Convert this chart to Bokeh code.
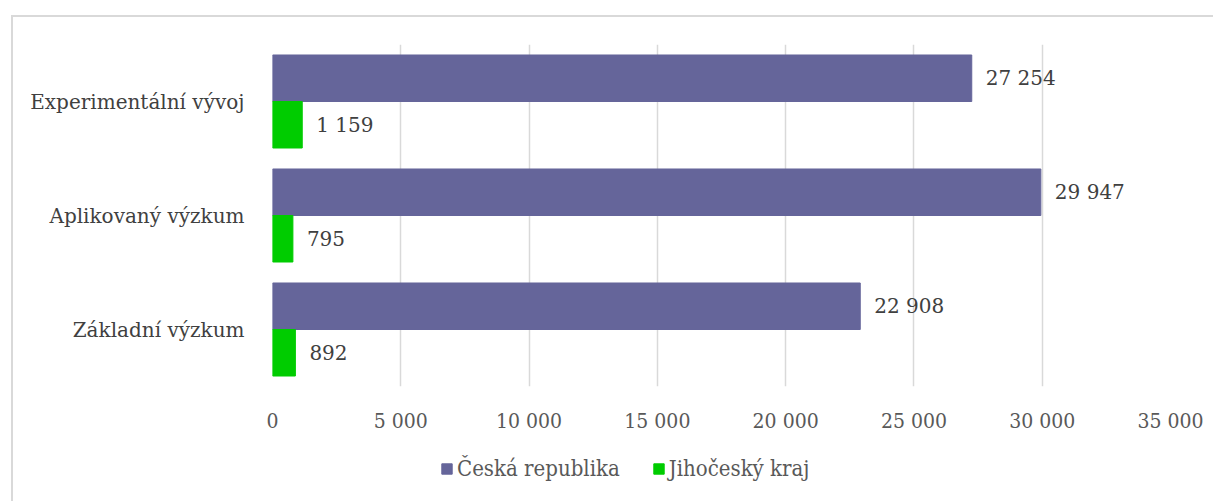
from bokeh.plotting import figure
from bokeh.layouts import column
from bokeh.models import ColumnDataSource, FactorRange, Range1d, Legend, LegendItem, FixedTicker
from bokeh.transform import dodge
from bokeh.core.properties import value
from bokeh.embed import file_html
from bokeh.resources import INLINE

categories = ["Základní výzkum", "Aplikovaný výzkum", "Experimentální vývoj"]
cr_values = [22908, 29947, 27254]
jck_values = [892, 795, 1159]
series_names = ["Česká republika", "Jihočeský kraj"]
x_ticks = [0, 5000, 10000, 15000, 20000, 25000, 30000, 35000]

def fmt(v):
    return f"{v:,}".replace(",", " ")

src = ColumnDataSource(dict(
    cat=categories,
    cr=cr_values,
    jck=jck_values,
    cr_lbl=[fmt(v) for v in cr_values],
    jck_lbl=[fmt(v) for v in jck_values],
))

FONT = "DejaVu Serif"
FONT_C = "DejaVu Serif Condensed"
PURPLE = "#65659a"
GREEN = "#00cc00"

p = figure(width=1200, height=429, y_range=FactorRange(*categories, range_padding=0),
           x_range=Range1d(0, 35000), output_backend="svg", toolbar_location=None,
           min_border_left=259, min_border_right=43, min_border_top=27, min_border_bottom=60)
p.outline_line_color = None
p.background_fill_color = "white"
p.border_fill_color = "white"

bw = 0.408
r1 = p.hbar(y=dodge("cat", bw / 2, range=p.y_range), right="cr", left=0, height=bw,
            source=src, fill_color=PURPLE, line_color=PURPLE)
r2 = p.hbar(y=dodge("cat", -bw / 2, range=p.y_range), right="jck", left=0, height=bw,
            source=src, fill_color=GREEN, line_color=GREEN)

p.text(x="cr", y=dodge("cat", bw / 2, range=p.y_range), text="cr_lbl", source=src,
       x_offset=14, text_baseline="middle", text_align="left",
       text_font=value(FONT), text_font_size="20px", text_color="#404040")
p.text(x="jck", y=dodge("cat", -bw / 2, range=p.y_range), text="jck_lbl", source=src,
       x_offset=14, text_baseline="middle", text_align="left",
       text_font=value(FONT), text_font_size="20px", text_color="#404040")

p.xaxis.ticker = FixedTicker(ticks=x_ticks)
p.xaxis.major_label_overrides = {t: fmt(t) for t in x_ticks}
p.xaxis.axis_line_color = None
p.xaxis.major_tick_line_color = None
p.xaxis.minor_tick_line_color = None
p.xaxis.major_label_standoff = 16
p.xaxis.major_label_text_font = FONT_C
p.xaxis.major_label_text_font_size = "21px"
p.xaxis.major_label_text_color = "#595959"

p.yaxis.axis_line_color = None
p.yaxis.major_tick_line_color = None
p.yaxis.minor_tick_line_color = None
p.yaxis.major_label_standoff = 22
p.yaxis.major_label_text_font = FONT
p.yaxis.major_label_text_font_size = "20px"
p.yaxis.major_label_text_color = "#404040"

p.ygrid.grid_line_color = None
p.xgrid.ticker = FixedTicker(ticks=x_ticks)
p.xgrid.grid_line_color = "#d9d9d9"
p.xgrid.grid_line_width = 1.5

# legend strip below the chart (its renderers hold a single NaN row, so only the legend swatches show)
q = figure(width=1200, height=55, output_backend="svg", toolbar_location=None,
           x_axis_type=None, y_axis_type=None, x_range=Range1d(0, 1), y_range=Range1d(0, 1),
           min_border_left=0, min_border_right=0, min_border_top=0, min_border_bottom=0)
q.outline_line_color = None
q.grid.visible = False
q.background_fill_color = "white"
q.border_fill_color = "white"
dummy = ColumnDataSource(dict(y=[float("nan")], right=[float("nan")]))
l1 = q.hbar(y="y", right="right", left=0, height=1, source=dummy, fill_color=PURPLE, line_color=PURPLE)
l2 = q.hbar(y="y", right="right", left=0, height=1, source=dummy, fill_color=GREEN, line_color=GREEN)

legend = Legend(items=[LegendItem(label=series_names[0], renderers=[l1]),
                       LegendItem(label=series_names[1], renderers=[l2])],
                orientation="horizontal", location=(168, 20),
                glyph_width=13, glyph_height=13, label_standoff=4, spacing=32,
                padding=0, margin=0, border_line_color=None, background_fill_alpha=0,
                label_text_font=FONT_C, label_text_font_size="22px", label_text_color="#595959")
q.add_layout(legend, "center")

layout = column(p, q, spacing=0,
                styles={"border-left": "2px solid #d9d9d9", "border-top": "2px solid #d9d9d9",
                        "margin-left": "11px", "margin-top": "15px"})

open("out.html", "w").write(file_html(layout, INLINE))
